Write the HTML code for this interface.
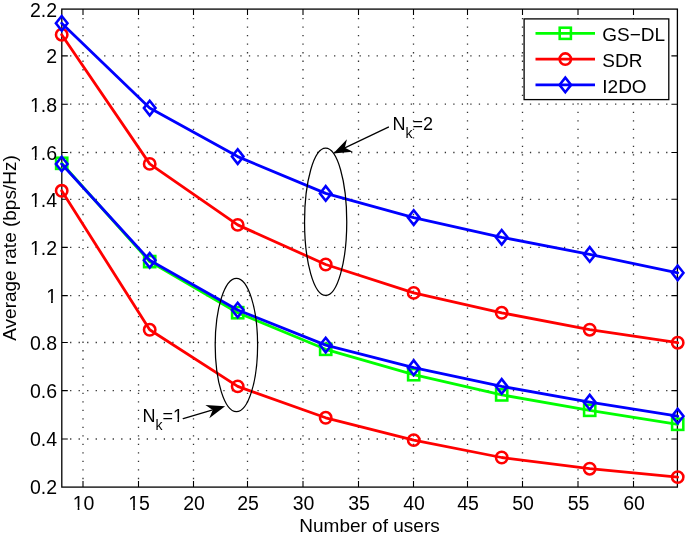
<!DOCTYPE html>
<html><head><meta charset="utf-8"><title>Average rate vs number of users</title>
<style>
html,body{margin:0;padding:0;background:#fff;}
body{width:685px;height:537px;overflow:hidden;position:relative;}
svg{position:absolute;left:0;top:0;display:block;will-change:transform;}
text{font-family:"Liberation Sans", sans-serif;fill:#000;}
</style></head><body>
<svg width="685" height="537" viewBox="0 0 685 537">
<rect x="0" y="0" width="685" height="537" fill="#fff"/>
<path d="M82.35 477.84h1.3v1.3h-1.3zM82.35 469.32h1.3v1.3h-1.3zM82.35 460.81h1.3v1.3h-1.3zM82.35 452.29h1.3v1.3h-1.3zM82.35 443.78h1.3v1.3h-1.3zM82.35 435.26h1.3v1.3h-1.3zM82.35 426.75h1.3v1.3h-1.3zM82.35 418.23h1.3v1.3h-1.3zM82.35 409.72h1.3v1.3h-1.3zM82.35 401.20h1.3v1.3h-1.3zM82.35 392.69h1.3v1.3h-1.3zM82.35 384.17h1.3v1.3h-1.3zM82.35 375.66h1.3v1.3h-1.3zM82.35 367.14h1.3v1.3h-1.3zM82.35 358.62h1.3v1.3h-1.3zM82.35 350.11h1.3v1.3h-1.3zM82.35 341.60h1.3v1.3h-1.3zM82.35 333.08h1.3v1.3h-1.3zM82.35 324.56h1.3v1.3h-1.3zM82.35 316.05h1.3v1.3h-1.3zM82.35 307.54h1.3v1.3h-1.3zM82.35 299.02h1.3v1.3h-1.3zM82.35 290.50h1.3v1.3h-1.3zM82.35 281.99h1.3v1.3h-1.3zM82.35 273.48h1.3v1.3h-1.3zM82.35 264.96h1.3v1.3h-1.3zM82.35 256.44h1.3v1.3h-1.3zM82.35 247.93h1.3v1.3h-1.3zM82.35 239.41h1.3v1.3h-1.3zM82.35 230.90h1.3v1.3h-1.3zM82.35 222.38h1.3v1.3h-1.3zM82.35 213.87h1.3v1.3h-1.3zM82.35 205.35h1.3v1.3h-1.3zM82.35 196.84h1.3v1.3h-1.3zM82.35 188.32h1.3v1.3h-1.3zM82.35 179.81h1.3v1.3h-1.3zM82.35 171.29h1.3v1.3h-1.3zM82.35 162.78h1.3v1.3h-1.3zM82.35 154.26h1.3v1.3h-1.3zM82.35 145.75h1.3v1.3h-1.3zM82.35 137.23h1.3v1.3h-1.3zM82.35 128.72h1.3v1.3h-1.3zM82.35 120.20h1.3v1.3h-1.3zM82.35 111.69h1.3v1.3h-1.3zM82.35 103.17h1.3v1.3h-1.3zM82.35 94.66h1.3v1.3h-1.3zM82.35 86.14h1.3v1.3h-1.3zM82.35 77.63h1.3v1.3h-1.3zM82.35 69.11h1.3v1.3h-1.3zM82.35 60.60h1.3v1.3h-1.3zM82.35 52.08h1.3v1.3h-1.3zM82.35 43.57h1.3v1.3h-1.3zM82.35 35.05h1.3v1.3h-1.3zM82.35 26.54h1.3v1.3h-1.3zM82.35 18.02h1.3v1.3h-1.3zM137.85 477.84h1.3v1.3h-1.3zM137.85 469.32h1.3v1.3h-1.3zM137.85 460.81h1.3v1.3h-1.3zM137.85 452.29h1.3v1.3h-1.3zM137.85 443.78h1.3v1.3h-1.3zM137.85 435.26h1.3v1.3h-1.3zM137.85 426.75h1.3v1.3h-1.3zM137.85 418.23h1.3v1.3h-1.3zM137.85 409.72h1.3v1.3h-1.3zM137.85 401.20h1.3v1.3h-1.3zM137.85 392.69h1.3v1.3h-1.3zM137.85 384.17h1.3v1.3h-1.3zM137.85 375.66h1.3v1.3h-1.3zM137.85 367.14h1.3v1.3h-1.3zM137.85 358.62h1.3v1.3h-1.3zM137.85 350.11h1.3v1.3h-1.3zM137.85 341.60h1.3v1.3h-1.3zM137.85 333.08h1.3v1.3h-1.3zM137.85 324.56h1.3v1.3h-1.3zM137.85 316.05h1.3v1.3h-1.3zM137.85 307.54h1.3v1.3h-1.3zM137.85 299.02h1.3v1.3h-1.3zM137.85 290.50h1.3v1.3h-1.3zM137.85 281.99h1.3v1.3h-1.3zM137.85 273.48h1.3v1.3h-1.3zM137.85 264.96h1.3v1.3h-1.3zM137.85 256.44h1.3v1.3h-1.3zM137.85 247.93h1.3v1.3h-1.3zM137.85 239.41h1.3v1.3h-1.3zM137.85 230.90h1.3v1.3h-1.3zM137.85 222.38h1.3v1.3h-1.3zM137.85 213.87h1.3v1.3h-1.3zM137.85 205.35h1.3v1.3h-1.3zM137.85 196.84h1.3v1.3h-1.3zM137.85 188.32h1.3v1.3h-1.3zM137.85 179.81h1.3v1.3h-1.3zM137.85 171.29h1.3v1.3h-1.3zM137.85 162.78h1.3v1.3h-1.3zM137.85 154.26h1.3v1.3h-1.3zM137.85 145.75h1.3v1.3h-1.3zM137.85 137.23h1.3v1.3h-1.3zM137.85 128.72h1.3v1.3h-1.3zM137.85 120.20h1.3v1.3h-1.3zM137.85 111.69h1.3v1.3h-1.3zM137.85 103.17h1.3v1.3h-1.3zM137.85 94.66h1.3v1.3h-1.3zM137.85 86.14h1.3v1.3h-1.3zM137.85 77.63h1.3v1.3h-1.3zM137.85 69.11h1.3v1.3h-1.3zM137.85 60.60h1.3v1.3h-1.3zM137.85 52.08h1.3v1.3h-1.3zM137.85 43.57h1.3v1.3h-1.3zM137.85 35.05h1.3v1.3h-1.3zM137.85 26.54h1.3v1.3h-1.3zM137.85 18.02h1.3v1.3h-1.3zM192.85 477.84h1.3v1.3h-1.3zM192.85 469.32h1.3v1.3h-1.3zM192.85 460.81h1.3v1.3h-1.3zM192.85 452.29h1.3v1.3h-1.3zM192.85 443.78h1.3v1.3h-1.3zM192.85 435.26h1.3v1.3h-1.3zM192.85 426.75h1.3v1.3h-1.3zM192.85 418.23h1.3v1.3h-1.3zM192.85 409.72h1.3v1.3h-1.3zM192.85 401.20h1.3v1.3h-1.3zM192.85 392.69h1.3v1.3h-1.3zM192.85 384.17h1.3v1.3h-1.3zM192.85 375.66h1.3v1.3h-1.3zM192.85 367.14h1.3v1.3h-1.3zM192.85 358.62h1.3v1.3h-1.3zM192.85 350.11h1.3v1.3h-1.3zM192.85 341.60h1.3v1.3h-1.3zM192.85 333.08h1.3v1.3h-1.3zM192.85 324.56h1.3v1.3h-1.3zM192.85 316.05h1.3v1.3h-1.3zM192.85 307.54h1.3v1.3h-1.3zM192.85 299.02h1.3v1.3h-1.3zM192.85 290.50h1.3v1.3h-1.3zM192.85 281.99h1.3v1.3h-1.3zM192.85 273.48h1.3v1.3h-1.3zM192.85 264.96h1.3v1.3h-1.3zM192.85 256.44h1.3v1.3h-1.3zM192.85 247.93h1.3v1.3h-1.3zM192.85 239.41h1.3v1.3h-1.3zM192.85 230.90h1.3v1.3h-1.3zM192.85 222.38h1.3v1.3h-1.3zM192.85 213.87h1.3v1.3h-1.3zM192.85 205.35h1.3v1.3h-1.3zM192.85 196.84h1.3v1.3h-1.3zM192.85 188.32h1.3v1.3h-1.3zM192.85 179.81h1.3v1.3h-1.3zM192.85 171.29h1.3v1.3h-1.3zM192.85 162.78h1.3v1.3h-1.3zM192.85 154.26h1.3v1.3h-1.3zM192.85 145.75h1.3v1.3h-1.3zM192.85 137.23h1.3v1.3h-1.3zM192.85 128.72h1.3v1.3h-1.3zM192.85 120.20h1.3v1.3h-1.3zM192.85 111.69h1.3v1.3h-1.3zM192.85 103.17h1.3v1.3h-1.3zM192.85 94.66h1.3v1.3h-1.3zM192.85 86.14h1.3v1.3h-1.3zM192.85 77.63h1.3v1.3h-1.3zM192.85 69.11h1.3v1.3h-1.3zM192.85 60.60h1.3v1.3h-1.3zM192.85 52.08h1.3v1.3h-1.3zM192.85 43.57h1.3v1.3h-1.3zM192.85 35.05h1.3v1.3h-1.3zM192.85 26.54h1.3v1.3h-1.3zM192.85 18.02h1.3v1.3h-1.3zM246.85 477.84h1.3v1.3h-1.3zM246.85 469.32h1.3v1.3h-1.3zM246.85 460.81h1.3v1.3h-1.3zM246.85 452.29h1.3v1.3h-1.3zM246.85 443.78h1.3v1.3h-1.3zM246.85 435.26h1.3v1.3h-1.3zM246.85 426.75h1.3v1.3h-1.3zM246.85 418.23h1.3v1.3h-1.3zM246.85 409.72h1.3v1.3h-1.3zM246.85 401.20h1.3v1.3h-1.3zM246.85 392.69h1.3v1.3h-1.3zM246.85 384.17h1.3v1.3h-1.3zM246.85 375.66h1.3v1.3h-1.3zM246.85 367.14h1.3v1.3h-1.3zM246.85 358.62h1.3v1.3h-1.3zM246.85 350.11h1.3v1.3h-1.3zM246.85 341.60h1.3v1.3h-1.3zM246.85 333.08h1.3v1.3h-1.3zM246.85 324.56h1.3v1.3h-1.3zM246.85 316.05h1.3v1.3h-1.3zM246.85 307.54h1.3v1.3h-1.3zM246.85 299.02h1.3v1.3h-1.3zM246.85 290.50h1.3v1.3h-1.3zM246.85 281.99h1.3v1.3h-1.3zM246.85 273.48h1.3v1.3h-1.3zM246.85 264.96h1.3v1.3h-1.3zM246.85 256.44h1.3v1.3h-1.3zM246.85 247.93h1.3v1.3h-1.3zM246.85 239.41h1.3v1.3h-1.3zM246.85 230.90h1.3v1.3h-1.3zM246.85 222.38h1.3v1.3h-1.3zM246.85 213.87h1.3v1.3h-1.3zM246.85 205.35h1.3v1.3h-1.3zM246.85 196.84h1.3v1.3h-1.3zM246.85 188.32h1.3v1.3h-1.3zM246.85 179.81h1.3v1.3h-1.3zM246.85 171.29h1.3v1.3h-1.3zM246.85 162.78h1.3v1.3h-1.3zM246.85 154.26h1.3v1.3h-1.3zM246.85 145.75h1.3v1.3h-1.3zM246.85 137.23h1.3v1.3h-1.3zM246.85 128.72h1.3v1.3h-1.3zM246.85 120.20h1.3v1.3h-1.3zM246.85 111.69h1.3v1.3h-1.3zM246.85 103.17h1.3v1.3h-1.3zM246.85 94.66h1.3v1.3h-1.3zM246.85 86.14h1.3v1.3h-1.3zM246.85 77.63h1.3v1.3h-1.3zM246.85 69.11h1.3v1.3h-1.3zM246.85 60.60h1.3v1.3h-1.3zM246.85 52.08h1.3v1.3h-1.3zM246.85 43.57h1.3v1.3h-1.3zM246.85 35.05h1.3v1.3h-1.3zM246.85 26.54h1.3v1.3h-1.3zM246.85 18.02h1.3v1.3h-1.3zM302.35 477.84h1.3v1.3h-1.3zM302.35 469.32h1.3v1.3h-1.3zM302.35 460.81h1.3v1.3h-1.3zM302.35 452.29h1.3v1.3h-1.3zM302.35 443.78h1.3v1.3h-1.3zM302.35 435.26h1.3v1.3h-1.3zM302.35 426.75h1.3v1.3h-1.3zM302.35 418.23h1.3v1.3h-1.3zM302.35 409.72h1.3v1.3h-1.3zM302.35 401.20h1.3v1.3h-1.3zM302.35 392.69h1.3v1.3h-1.3zM302.35 384.17h1.3v1.3h-1.3zM302.35 375.66h1.3v1.3h-1.3zM302.35 367.14h1.3v1.3h-1.3zM302.35 358.62h1.3v1.3h-1.3zM302.35 350.11h1.3v1.3h-1.3zM302.35 341.60h1.3v1.3h-1.3zM302.35 333.08h1.3v1.3h-1.3zM302.35 324.56h1.3v1.3h-1.3zM302.35 316.05h1.3v1.3h-1.3zM302.35 307.54h1.3v1.3h-1.3zM302.35 299.02h1.3v1.3h-1.3zM302.35 290.50h1.3v1.3h-1.3zM302.35 281.99h1.3v1.3h-1.3zM302.35 273.48h1.3v1.3h-1.3zM302.35 264.96h1.3v1.3h-1.3zM302.35 256.44h1.3v1.3h-1.3zM302.35 247.93h1.3v1.3h-1.3zM302.35 239.41h1.3v1.3h-1.3zM302.35 230.90h1.3v1.3h-1.3zM302.35 222.38h1.3v1.3h-1.3zM302.35 213.87h1.3v1.3h-1.3zM302.35 205.35h1.3v1.3h-1.3zM302.35 196.84h1.3v1.3h-1.3zM302.35 188.32h1.3v1.3h-1.3zM302.35 179.81h1.3v1.3h-1.3zM302.35 171.29h1.3v1.3h-1.3zM302.35 162.78h1.3v1.3h-1.3zM302.35 154.26h1.3v1.3h-1.3zM302.35 145.75h1.3v1.3h-1.3zM302.35 137.23h1.3v1.3h-1.3zM302.35 128.72h1.3v1.3h-1.3zM302.35 120.20h1.3v1.3h-1.3zM302.35 111.69h1.3v1.3h-1.3zM302.35 103.17h1.3v1.3h-1.3zM302.35 94.66h1.3v1.3h-1.3zM302.35 86.14h1.3v1.3h-1.3zM302.35 77.63h1.3v1.3h-1.3zM302.35 69.11h1.3v1.3h-1.3zM302.35 60.60h1.3v1.3h-1.3zM302.35 52.08h1.3v1.3h-1.3zM302.35 43.57h1.3v1.3h-1.3zM302.35 35.05h1.3v1.3h-1.3zM302.35 26.54h1.3v1.3h-1.3zM302.35 18.02h1.3v1.3h-1.3zM357.85 477.84h1.3v1.3h-1.3zM357.85 469.32h1.3v1.3h-1.3zM357.85 460.81h1.3v1.3h-1.3zM357.85 452.29h1.3v1.3h-1.3zM357.85 443.78h1.3v1.3h-1.3zM357.85 435.26h1.3v1.3h-1.3zM357.85 426.75h1.3v1.3h-1.3zM357.85 418.23h1.3v1.3h-1.3zM357.85 409.72h1.3v1.3h-1.3zM357.85 401.20h1.3v1.3h-1.3zM357.85 392.69h1.3v1.3h-1.3zM357.85 384.17h1.3v1.3h-1.3zM357.85 375.66h1.3v1.3h-1.3zM357.85 367.14h1.3v1.3h-1.3zM357.85 358.62h1.3v1.3h-1.3zM357.85 350.11h1.3v1.3h-1.3zM357.85 341.60h1.3v1.3h-1.3zM357.85 333.08h1.3v1.3h-1.3zM357.85 324.56h1.3v1.3h-1.3zM357.85 316.05h1.3v1.3h-1.3zM357.85 307.54h1.3v1.3h-1.3zM357.85 299.02h1.3v1.3h-1.3zM357.85 290.50h1.3v1.3h-1.3zM357.85 281.99h1.3v1.3h-1.3zM357.85 273.48h1.3v1.3h-1.3zM357.85 264.96h1.3v1.3h-1.3zM357.85 256.44h1.3v1.3h-1.3zM357.85 247.93h1.3v1.3h-1.3zM357.85 239.41h1.3v1.3h-1.3zM357.85 230.90h1.3v1.3h-1.3zM357.85 222.38h1.3v1.3h-1.3zM357.85 213.87h1.3v1.3h-1.3zM357.85 205.35h1.3v1.3h-1.3zM357.85 196.84h1.3v1.3h-1.3zM357.85 188.32h1.3v1.3h-1.3zM357.85 179.81h1.3v1.3h-1.3zM357.85 171.29h1.3v1.3h-1.3zM357.85 162.78h1.3v1.3h-1.3zM357.85 154.26h1.3v1.3h-1.3zM357.85 145.75h1.3v1.3h-1.3zM357.85 137.23h1.3v1.3h-1.3zM357.85 128.72h1.3v1.3h-1.3zM357.85 120.20h1.3v1.3h-1.3zM357.85 111.69h1.3v1.3h-1.3zM357.85 103.17h1.3v1.3h-1.3zM357.85 94.66h1.3v1.3h-1.3zM357.85 86.14h1.3v1.3h-1.3zM357.85 77.63h1.3v1.3h-1.3zM357.85 69.11h1.3v1.3h-1.3zM357.85 60.60h1.3v1.3h-1.3zM357.85 52.08h1.3v1.3h-1.3zM357.85 43.57h1.3v1.3h-1.3zM357.85 35.05h1.3v1.3h-1.3zM357.85 26.54h1.3v1.3h-1.3zM357.85 18.02h1.3v1.3h-1.3zM412.85 477.84h1.3v1.3h-1.3zM412.85 469.32h1.3v1.3h-1.3zM412.85 460.81h1.3v1.3h-1.3zM412.85 452.29h1.3v1.3h-1.3zM412.85 443.78h1.3v1.3h-1.3zM412.85 435.26h1.3v1.3h-1.3zM412.85 426.75h1.3v1.3h-1.3zM412.85 418.23h1.3v1.3h-1.3zM412.85 409.72h1.3v1.3h-1.3zM412.85 401.20h1.3v1.3h-1.3zM412.85 392.69h1.3v1.3h-1.3zM412.85 384.17h1.3v1.3h-1.3zM412.85 375.66h1.3v1.3h-1.3zM412.85 367.14h1.3v1.3h-1.3zM412.85 358.62h1.3v1.3h-1.3zM412.85 350.11h1.3v1.3h-1.3zM412.85 341.60h1.3v1.3h-1.3zM412.85 333.08h1.3v1.3h-1.3zM412.85 324.56h1.3v1.3h-1.3zM412.85 316.05h1.3v1.3h-1.3zM412.85 307.54h1.3v1.3h-1.3zM412.85 299.02h1.3v1.3h-1.3zM412.85 290.50h1.3v1.3h-1.3zM412.85 281.99h1.3v1.3h-1.3zM412.85 273.48h1.3v1.3h-1.3zM412.85 264.96h1.3v1.3h-1.3zM412.85 256.44h1.3v1.3h-1.3zM412.85 247.93h1.3v1.3h-1.3zM412.85 239.41h1.3v1.3h-1.3zM412.85 230.90h1.3v1.3h-1.3zM412.85 222.38h1.3v1.3h-1.3zM412.85 213.87h1.3v1.3h-1.3zM412.85 205.35h1.3v1.3h-1.3zM412.85 196.84h1.3v1.3h-1.3zM412.85 188.32h1.3v1.3h-1.3zM412.85 179.81h1.3v1.3h-1.3zM412.85 171.29h1.3v1.3h-1.3zM412.85 162.78h1.3v1.3h-1.3zM412.85 154.26h1.3v1.3h-1.3zM412.85 145.75h1.3v1.3h-1.3zM412.85 137.23h1.3v1.3h-1.3zM412.85 128.72h1.3v1.3h-1.3zM412.85 120.20h1.3v1.3h-1.3zM412.85 111.69h1.3v1.3h-1.3zM412.85 103.17h1.3v1.3h-1.3zM412.85 94.66h1.3v1.3h-1.3zM412.85 86.14h1.3v1.3h-1.3zM412.85 77.63h1.3v1.3h-1.3zM412.85 69.11h1.3v1.3h-1.3zM412.85 60.60h1.3v1.3h-1.3zM412.85 52.08h1.3v1.3h-1.3zM412.85 43.57h1.3v1.3h-1.3zM412.85 35.05h1.3v1.3h-1.3zM412.85 26.54h1.3v1.3h-1.3zM412.85 18.02h1.3v1.3h-1.3zM466.85 477.84h1.3v1.3h-1.3zM466.85 469.32h1.3v1.3h-1.3zM466.85 460.81h1.3v1.3h-1.3zM466.85 452.29h1.3v1.3h-1.3zM466.85 443.78h1.3v1.3h-1.3zM466.85 435.26h1.3v1.3h-1.3zM466.85 426.75h1.3v1.3h-1.3zM466.85 418.23h1.3v1.3h-1.3zM466.85 409.72h1.3v1.3h-1.3zM466.85 401.20h1.3v1.3h-1.3zM466.85 392.69h1.3v1.3h-1.3zM466.85 384.17h1.3v1.3h-1.3zM466.85 375.66h1.3v1.3h-1.3zM466.85 367.14h1.3v1.3h-1.3zM466.85 358.62h1.3v1.3h-1.3zM466.85 350.11h1.3v1.3h-1.3zM466.85 341.60h1.3v1.3h-1.3zM466.85 333.08h1.3v1.3h-1.3zM466.85 324.56h1.3v1.3h-1.3zM466.85 316.05h1.3v1.3h-1.3zM466.85 307.54h1.3v1.3h-1.3zM466.85 299.02h1.3v1.3h-1.3zM466.85 290.50h1.3v1.3h-1.3zM466.85 281.99h1.3v1.3h-1.3zM466.85 273.48h1.3v1.3h-1.3zM466.85 264.96h1.3v1.3h-1.3zM466.85 256.44h1.3v1.3h-1.3zM466.85 247.93h1.3v1.3h-1.3zM466.85 239.41h1.3v1.3h-1.3zM466.85 230.90h1.3v1.3h-1.3zM466.85 222.38h1.3v1.3h-1.3zM466.85 213.87h1.3v1.3h-1.3zM466.85 205.35h1.3v1.3h-1.3zM466.85 196.84h1.3v1.3h-1.3zM466.85 188.32h1.3v1.3h-1.3zM466.85 179.81h1.3v1.3h-1.3zM466.85 171.29h1.3v1.3h-1.3zM466.85 162.78h1.3v1.3h-1.3zM466.85 154.26h1.3v1.3h-1.3zM466.85 145.75h1.3v1.3h-1.3zM466.85 137.23h1.3v1.3h-1.3zM466.85 128.72h1.3v1.3h-1.3zM466.85 120.20h1.3v1.3h-1.3zM466.85 111.69h1.3v1.3h-1.3zM466.85 103.17h1.3v1.3h-1.3zM466.85 94.66h1.3v1.3h-1.3zM466.85 86.14h1.3v1.3h-1.3zM466.85 77.63h1.3v1.3h-1.3zM466.85 69.11h1.3v1.3h-1.3zM466.85 60.60h1.3v1.3h-1.3zM466.85 52.08h1.3v1.3h-1.3zM466.85 43.57h1.3v1.3h-1.3zM466.85 35.05h1.3v1.3h-1.3zM466.85 26.54h1.3v1.3h-1.3zM466.85 18.02h1.3v1.3h-1.3zM521.85 477.84h1.3v1.3h-1.3zM521.85 469.32h1.3v1.3h-1.3zM521.85 460.81h1.3v1.3h-1.3zM521.85 452.29h1.3v1.3h-1.3zM521.85 443.78h1.3v1.3h-1.3zM521.85 435.26h1.3v1.3h-1.3zM521.85 426.75h1.3v1.3h-1.3zM521.85 418.23h1.3v1.3h-1.3zM521.85 409.72h1.3v1.3h-1.3zM521.85 401.20h1.3v1.3h-1.3zM521.85 392.69h1.3v1.3h-1.3zM521.85 384.17h1.3v1.3h-1.3zM521.85 375.66h1.3v1.3h-1.3zM521.85 367.14h1.3v1.3h-1.3zM521.85 358.62h1.3v1.3h-1.3zM521.85 350.11h1.3v1.3h-1.3zM521.85 341.60h1.3v1.3h-1.3zM521.85 333.08h1.3v1.3h-1.3zM521.85 324.56h1.3v1.3h-1.3zM521.85 316.05h1.3v1.3h-1.3zM521.85 307.54h1.3v1.3h-1.3zM521.85 299.02h1.3v1.3h-1.3zM521.85 290.50h1.3v1.3h-1.3zM521.85 281.99h1.3v1.3h-1.3zM521.85 273.48h1.3v1.3h-1.3zM521.85 264.96h1.3v1.3h-1.3zM521.85 256.44h1.3v1.3h-1.3zM521.85 247.93h1.3v1.3h-1.3zM521.85 239.41h1.3v1.3h-1.3zM521.85 230.90h1.3v1.3h-1.3zM521.85 222.38h1.3v1.3h-1.3zM521.85 213.87h1.3v1.3h-1.3zM521.85 205.35h1.3v1.3h-1.3zM521.85 196.84h1.3v1.3h-1.3zM521.85 188.32h1.3v1.3h-1.3zM521.85 179.81h1.3v1.3h-1.3zM521.85 171.29h1.3v1.3h-1.3zM521.85 162.78h1.3v1.3h-1.3zM521.85 154.26h1.3v1.3h-1.3zM521.85 145.75h1.3v1.3h-1.3zM521.85 137.23h1.3v1.3h-1.3zM521.85 128.72h1.3v1.3h-1.3zM521.85 120.20h1.3v1.3h-1.3zM521.85 111.69h1.3v1.3h-1.3zM521.85 103.17h1.3v1.3h-1.3zM521.85 94.66h1.3v1.3h-1.3zM521.85 86.14h1.3v1.3h-1.3zM521.85 77.63h1.3v1.3h-1.3zM521.85 69.11h1.3v1.3h-1.3zM521.85 60.60h1.3v1.3h-1.3zM521.85 52.08h1.3v1.3h-1.3zM521.85 43.57h1.3v1.3h-1.3zM521.85 35.05h1.3v1.3h-1.3zM521.85 26.54h1.3v1.3h-1.3zM521.85 18.02h1.3v1.3h-1.3zM577.35 477.84h1.3v1.3h-1.3zM577.35 469.32h1.3v1.3h-1.3zM577.35 460.81h1.3v1.3h-1.3zM577.35 452.29h1.3v1.3h-1.3zM577.35 443.78h1.3v1.3h-1.3zM577.35 435.26h1.3v1.3h-1.3zM577.35 426.75h1.3v1.3h-1.3zM577.35 418.23h1.3v1.3h-1.3zM577.35 409.72h1.3v1.3h-1.3zM577.35 401.20h1.3v1.3h-1.3zM577.35 392.69h1.3v1.3h-1.3zM577.35 384.17h1.3v1.3h-1.3zM577.35 375.66h1.3v1.3h-1.3zM577.35 367.14h1.3v1.3h-1.3zM577.35 358.62h1.3v1.3h-1.3zM577.35 350.11h1.3v1.3h-1.3zM577.35 341.60h1.3v1.3h-1.3zM577.35 333.08h1.3v1.3h-1.3zM577.35 324.56h1.3v1.3h-1.3zM577.35 316.05h1.3v1.3h-1.3zM577.35 307.54h1.3v1.3h-1.3zM577.35 299.02h1.3v1.3h-1.3zM577.35 290.50h1.3v1.3h-1.3zM577.35 281.99h1.3v1.3h-1.3zM577.35 273.48h1.3v1.3h-1.3zM577.35 264.96h1.3v1.3h-1.3zM577.35 256.44h1.3v1.3h-1.3zM577.35 247.93h1.3v1.3h-1.3zM577.35 239.41h1.3v1.3h-1.3zM577.35 230.90h1.3v1.3h-1.3zM577.35 222.38h1.3v1.3h-1.3zM577.35 213.87h1.3v1.3h-1.3zM577.35 205.35h1.3v1.3h-1.3zM577.35 196.84h1.3v1.3h-1.3zM577.35 188.32h1.3v1.3h-1.3zM577.35 179.81h1.3v1.3h-1.3zM577.35 171.29h1.3v1.3h-1.3zM577.35 162.78h1.3v1.3h-1.3zM577.35 154.26h1.3v1.3h-1.3zM577.35 145.75h1.3v1.3h-1.3zM577.35 137.23h1.3v1.3h-1.3zM577.35 128.72h1.3v1.3h-1.3zM577.35 120.20h1.3v1.3h-1.3zM577.35 111.69h1.3v1.3h-1.3zM577.35 103.17h1.3v1.3h-1.3zM577.35 94.66h1.3v1.3h-1.3zM577.35 86.14h1.3v1.3h-1.3zM577.35 77.63h1.3v1.3h-1.3zM577.35 69.11h1.3v1.3h-1.3zM577.35 60.60h1.3v1.3h-1.3zM577.35 52.08h1.3v1.3h-1.3zM577.35 43.57h1.3v1.3h-1.3zM577.35 35.05h1.3v1.3h-1.3zM577.35 26.54h1.3v1.3h-1.3zM577.35 18.02h1.3v1.3h-1.3zM632.85 477.84h1.3v1.3h-1.3zM632.85 469.32h1.3v1.3h-1.3zM632.85 460.81h1.3v1.3h-1.3zM632.85 452.29h1.3v1.3h-1.3zM632.85 443.78h1.3v1.3h-1.3zM632.85 435.26h1.3v1.3h-1.3zM632.85 426.75h1.3v1.3h-1.3zM632.85 418.23h1.3v1.3h-1.3zM632.85 409.72h1.3v1.3h-1.3zM632.85 401.20h1.3v1.3h-1.3zM632.85 392.69h1.3v1.3h-1.3zM632.85 384.17h1.3v1.3h-1.3zM632.85 375.66h1.3v1.3h-1.3zM632.85 367.14h1.3v1.3h-1.3zM632.85 358.62h1.3v1.3h-1.3zM632.85 350.11h1.3v1.3h-1.3zM632.85 341.60h1.3v1.3h-1.3zM632.85 333.08h1.3v1.3h-1.3zM632.85 324.56h1.3v1.3h-1.3zM632.85 316.05h1.3v1.3h-1.3zM632.85 307.54h1.3v1.3h-1.3zM632.85 299.02h1.3v1.3h-1.3zM632.85 290.50h1.3v1.3h-1.3zM632.85 281.99h1.3v1.3h-1.3zM632.85 273.48h1.3v1.3h-1.3zM632.85 264.96h1.3v1.3h-1.3zM632.85 256.44h1.3v1.3h-1.3zM632.85 247.93h1.3v1.3h-1.3zM632.85 239.41h1.3v1.3h-1.3zM632.85 230.90h1.3v1.3h-1.3zM632.85 222.38h1.3v1.3h-1.3zM632.85 213.87h1.3v1.3h-1.3zM632.85 205.35h1.3v1.3h-1.3zM632.85 196.84h1.3v1.3h-1.3zM632.85 188.32h1.3v1.3h-1.3zM632.85 179.81h1.3v1.3h-1.3zM632.85 171.29h1.3v1.3h-1.3zM632.85 162.78h1.3v1.3h-1.3zM632.85 154.26h1.3v1.3h-1.3zM632.85 145.75h1.3v1.3h-1.3zM632.85 137.23h1.3v1.3h-1.3zM632.85 128.72h1.3v1.3h-1.3zM632.85 120.20h1.3v1.3h-1.3zM632.85 111.69h1.3v1.3h-1.3zM632.85 103.17h1.3v1.3h-1.3zM632.85 94.66h1.3v1.3h-1.3zM632.85 86.14h1.3v1.3h-1.3zM632.85 77.63h1.3v1.3h-1.3zM632.85 69.11h1.3v1.3h-1.3zM632.85 60.60h1.3v1.3h-1.3zM632.85 52.08h1.3v1.3h-1.3zM632.85 43.57h1.3v1.3h-1.3zM632.85 35.05h1.3v1.3h-1.3zM632.85 26.54h1.3v1.3h-1.3zM632.85 18.02h1.3v1.3h-1.3zM70.06 438.35h1.3v1.3h-1.3zM78.58 438.35h1.3v1.3h-1.3zM87.09 438.35h1.3v1.3h-1.3zM95.61 438.35h1.3v1.3h-1.3zM104.12 438.35h1.3v1.3h-1.3zM112.64 438.35h1.3v1.3h-1.3zM121.16 438.35h1.3v1.3h-1.3zM129.67 438.35h1.3v1.3h-1.3zM138.19 438.35h1.3v1.3h-1.3zM146.70 438.35h1.3v1.3h-1.3zM155.22 438.35h1.3v1.3h-1.3zM163.73 438.35h1.3v1.3h-1.3zM172.25 438.35h1.3v1.3h-1.3zM180.76 438.35h1.3v1.3h-1.3zM189.28 438.35h1.3v1.3h-1.3zM197.79 438.35h1.3v1.3h-1.3zM206.30 438.35h1.3v1.3h-1.3zM214.82 438.35h1.3v1.3h-1.3zM223.34 438.35h1.3v1.3h-1.3zM231.85 438.35h1.3v1.3h-1.3zM240.36 438.35h1.3v1.3h-1.3zM248.88 438.35h1.3v1.3h-1.3zM257.40 438.35h1.3v1.3h-1.3zM265.91 438.35h1.3v1.3h-1.3zM274.43 438.35h1.3v1.3h-1.3zM282.94 438.35h1.3v1.3h-1.3zM291.46 438.35h1.3v1.3h-1.3zM299.97 438.35h1.3v1.3h-1.3zM308.49 438.35h1.3v1.3h-1.3zM317.00 438.35h1.3v1.3h-1.3zM325.52 438.35h1.3v1.3h-1.3zM334.03 438.35h1.3v1.3h-1.3zM342.55 438.35h1.3v1.3h-1.3zM351.06 438.35h1.3v1.3h-1.3zM359.58 438.35h1.3v1.3h-1.3zM368.09 438.35h1.3v1.3h-1.3zM376.61 438.35h1.3v1.3h-1.3zM385.12 438.35h1.3v1.3h-1.3zM393.64 438.35h1.3v1.3h-1.3zM402.15 438.35h1.3v1.3h-1.3zM410.67 438.35h1.3v1.3h-1.3zM419.18 438.35h1.3v1.3h-1.3zM427.70 438.35h1.3v1.3h-1.3zM436.21 438.35h1.3v1.3h-1.3zM444.73 438.35h1.3v1.3h-1.3zM453.24 438.35h1.3v1.3h-1.3zM461.76 438.35h1.3v1.3h-1.3zM470.27 438.35h1.3v1.3h-1.3zM478.79 438.35h1.3v1.3h-1.3zM487.30 438.35h1.3v1.3h-1.3zM495.82 438.35h1.3v1.3h-1.3zM504.33 438.35h1.3v1.3h-1.3zM512.85 438.35h1.3v1.3h-1.3zM521.36 438.35h1.3v1.3h-1.3zM529.88 438.35h1.3v1.3h-1.3zM538.39 438.35h1.3v1.3h-1.3zM546.91 438.35h1.3v1.3h-1.3zM555.42 438.35h1.3v1.3h-1.3zM563.94 438.35h1.3v1.3h-1.3zM572.45 438.35h1.3v1.3h-1.3zM580.97 438.35h1.3v1.3h-1.3zM589.48 438.35h1.3v1.3h-1.3zM598.00 438.35h1.3v1.3h-1.3zM606.51 438.35h1.3v1.3h-1.3zM615.03 438.35h1.3v1.3h-1.3zM623.54 438.35h1.3v1.3h-1.3zM632.06 438.35h1.3v1.3h-1.3zM640.57 438.35h1.3v1.3h-1.3zM649.09 438.35h1.3v1.3h-1.3zM657.60 438.35h1.3v1.3h-1.3zM666.12 438.35h1.3v1.3h-1.3zM70.06 389.95h1.3v1.3h-1.3zM78.58 389.95h1.3v1.3h-1.3zM87.09 389.95h1.3v1.3h-1.3zM95.61 389.95h1.3v1.3h-1.3zM104.12 389.95h1.3v1.3h-1.3zM112.64 389.95h1.3v1.3h-1.3zM121.16 389.95h1.3v1.3h-1.3zM129.67 389.95h1.3v1.3h-1.3zM138.19 389.95h1.3v1.3h-1.3zM146.70 389.95h1.3v1.3h-1.3zM155.22 389.95h1.3v1.3h-1.3zM163.73 389.95h1.3v1.3h-1.3zM172.25 389.95h1.3v1.3h-1.3zM180.76 389.95h1.3v1.3h-1.3zM189.28 389.95h1.3v1.3h-1.3zM197.79 389.95h1.3v1.3h-1.3zM206.30 389.95h1.3v1.3h-1.3zM214.82 389.95h1.3v1.3h-1.3zM223.34 389.95h1.3v1.3h-1.3zM231.85 389.95h1.3v1.3h-1.3zM240.36 389.95h1.3v1.3h-1.3zM248.88 389.95h1.3v1.3h-1.3zM257.40 389.95h1.3v1.3h-1.3zM265.91 389.95h1.3v1.3h-1.3zM274.43 389.95h1.3v1.3h-1.3zM282.94 389.95h1.3v1.3h-1.3zM291.46 389.95h1.3v1.3h-1.3zM299.97 389.95h1.3v1.3h-1.3zM308.49 389.95h1.3v1.3h-1.3zM317.00 389.95h1.3v1.3h-1.3zM325.52 389.95h1.3v1.3h-1.3zM334.03 389.95h1.3v1.3h-1.3zM342.55 389.95h1.3v1.3h-1.3zM351.06 389.95h1.3v1.3h-1.3zM359.58 389.95h1.3v1.3h-1.3zM368.09 389.95h1.3v1.3h-1.3zM376.61 389.95h1.3v1.3h-1.3zM385.12 389.95h1.3v1.3h-1.3zM393.64 389.95h1.3v1.3h-1.3zM402.15 389.95h1.3v1.3h-1.3zM410.67 389.95h1.3v1.3h-1.3zM419.18 389.95h1.3v1.3h-1.3zM427.70 389.95h1.3v1.3h-1.3zM436.21 389.95h1.3v1.3h-1.3zM444.73 389.95h1.3v1.3h-1.3zM453.24 389.95h1.3v1.3h-1.3zM461.76 389.95h1.3v1.3h-1.3zM470.27 389.95h1.3v1.3h-1.3zM478.79 389.95h1.3v1.3h-1.3zM487.30 389.95h1.3v1.3h-1.3zM495.82 389.95h1.3v1.3h-1.3zM504.33 389.95h1.3v1.3h-1.3zM512.85 389.95h1.3v1.3h-1.3zM521.36 389.95h1.3v1.3h-1.3zM529.88 389.95h1.3v1.3h-1.3zM538.39 389.95h1.3v1.3h-1.3zM546.91 389.95h1.3v1.3h-1.3zM555.42 389.95h1.3v1.3h-1.3zM563.94 389.95h1.3v1.3h-1.3zM572.45 389.95h1.3v1.3h-1.3zM580.97 389.95h1.3v1.3h-1.3zM589.48 389.95h1.3v1.3h-1.3zM598.00 389.95h1.3v1.3h-1.3zM606.51 389.95h1.3v1.3h-1.3zM615.03 389.95h1.3v1.3h-1.3zM623.54 389.95h1.3v1.3h-1.3zM632.06 389.95h1.3v1.3h-1.3zM640.57 389.95h1.3v1.3h-1.3zM649.09 389.95h1.3v1.3h-1.3zM657.60 389.95h1.3v1.3h-1.3zM666.12 389.95h1.3v1.3h-1.3zM70.06 341.85h1.3v1.3h-1.3zM78.58 341.85h1.3v1.3h-1.3zM87.09 341.85h1.3v1.3h-1.3zM95.61 341.85h1.3v1.3h-1.3zM104.12 341.85h1.3v1.3h-1.3zM112.64 341.85h1.3v1.3h-1.3zM121.16 341.85h1.3v1.3h-1.3zM129.67 341.85h1.3v1.3h-1.3zM138.19 341.85h1.3v1.3h-1.3zM146.70 341.85h1.3v1.3h-1.3zM155.22 341.85h1.3v1.3h-1.3zM163.73 341.85h1.3v1.3h-1.3zM172.25 341.85h1.3v1.3h-1.3zM180.76 341.85h1.3v1.3h-1.3zM189.28 341.85h1.3v1.3h-1.3zM197.79 341.85h1.3v1.3h-1.3zM206.30 341.85h1.3v1.3h-1.3zM214.82 341.85h1.3v1.3h-1.3zM223.34 341.85h1.3v1.3h-1.3zM231.85 341.85h1.3v1.3h-1.3zM240.36 341.85h1.3v1.3h-1.3zM248.88 341.85h1.3v1.3h-1.3zM257.40 341.85h1.3v1.3h-1.3zM265.91 341.85h1.3v1.3h-1.3zM274.43 341.85h1.3v1.3h-1.3zM282.94 341.85h1.3v1.3h-1.3zM291.46 341.85h1.3v1.3h-1.3zM299.97 341.85h1.3v1.3h-1.3zM308.49 341.85h1.3v1.3h-1.3zM317.00 341.85h1.3v1.3h-1.3zM325.52 341.85h1.3v1.3h-1.3zM334.03 341.85h1.3v1.3h-1.3zM342.55 341.85h1.3v1.3h-1.3zM351.06 341.85h1.3v1.3h-1.3zM359.58 341.85h1.3v1.3h-1.3zM368.09 341.85h1.3v1.3h-1.3zM376.61 341.85h1.3v1.3h-1.3zM385.12 341.85h1.3v1.3h-1.3zM393.64 341.85h1.3v1.3h-1.3zM402.15 341.85h1.3v1.3h-1.3zM410.67 341.85h1.3v1.3h-1.3zM419.18 341.85h1.3v1.3h-1.3zM427.70 341.85h1.3v1.3h-1.3zM436.21 341.85h1.3v1.3h-1.3zM444.73 341.85h1.3v1.3h-1.3zM453.24 341.85h1.3v1.3h-1.3zM461.76 341.85h1.3v1.3h-1.3zM470.27 341.85h1.3v1.3h-1.3zM478.79 341.85h1.3v1.3h-1.3zM487.30 341.85h1.3v1.3h-1.3zM495.82 341.85h1.3v1.3h-1.3zM504.33 341.85h1.3v1.3h-1.3zM512.85 341.85h1.3v1.3h-1.3zM521.36 341.85h1.3v1.3h-1.3zM529.88 341.85h1.3v1.3h-1.3zM538.39 341.85h1.3v1.3h-1.3zM546.91 341.85h1.3v1.3h-1.3zM555.42 341.85h1.3v1.3h-1.3zM563.94 341.85h1.3v1.3h-1.3zM572.45 341.85h1.3v1.3h-1.3zM580.97 341.85h1.3v1.3h-1.3zM589.48 341.85h1.3v1.3h-1.3zM598.00 341.85h1.3v1.3h-1.3zM606.51 341.85h1.3v1.3h-1.3zM615.03 341.85h1.3v1.3h-1.3zM623.54 341.85h1.3v1.3h-1.3zM632.06 341.85h1.3v1.3h-1.3zM640.57 341.85h1.3v1.3h-1.3zM649.09 341.85h1.3v1.3h-1.3zM657.60 341.85h1.3v1.3h-1.3zM666.12 341.85h1.3v1.3h-1.3zM70.06 294.95h1.3v1.3h-1.3zM78.58 294.95h1.3v1.3h-1.3zM87.09 294.95h1.3v1.3h-1.3zM95.61 294.95h1.3v1.3h-1.3zM104.12 294.95h1.3v1.3h-1.3zM112.64 294.95h1.3v1.3h-1.3zM121.16 294.95h1.3v1.3h-1.3zM129.67 294.95h1.3v1.3h-1.3zM138.19 294.95h1.3v1.3h-1.3zM146.70 294.95h1.3v1.3h-1.3zM155.22 294.95h1.3v1.3h-1.3zM163.73 294.95h1.3v1.3h-1.3zM172.25 294.95h1.3v1.3h-1.3zM180.76 294.95h1.3v1.3h-1.3zM189.28 294.95h1.3v1.3h-1.3zM197.79 294.95h1.3v1.3h-1.3zM206.30 294.95h1.3v1.3h-1.3zM214.82 294.95h1.3v1.3h-1.3zM223.34 294.95h1.3v1.3h-1.3zM231.85 294.95h1.3v1.3h-1.3zM240.36 294.95h1.3v1.3h-1.3zM248.88 294.95h1.3v1.3h-1.3zM257.40 294.95h1.3v1.3h-1.3zM265.91 294.95h1.3v1.3h-1.3zM274.43 294.95h1.3v1.3h-1.3zM282.94 294.95h1.3v1.3h-1.3zM291.46 294.95h1.3v1.3h-1.3zM299.97 294.95h1.3v1.3h-1.3zM308.49 294.95h1.3v1.3h-1.3zM317.00 294.95h1.3v1.3h-1.3zM325.52 294.95h1.3v1.3h-1.3zM334.03 294.95h1.3v1.3h-1.3zM342.55 294.95h1.3v1.3h-1.3zM351.06 294.95h1.3v1.3h-1.3zM359.58 294.95h1.3v1.3h-1.3zM368.09 294.95h1.3v1.3h-1.3zM376.61 294.95h1.3v1.3h-1.3zM385.12 294.95h1.3v1.3h-1.3zM393.64 294.95h1.3v1.3h-1.3zM402.15 294.95h1.3v1.3h-1.3zM410.67 294.95h1.3v1.3h-1.3zM419.18 294.95h1.3v1.3h-1.3zM427.70 294.95h1.3v1.3h-1.3zM436.21 294.95h1.3v1.3h-1.3zM444.73 294.95h1.3v1.3h-1.3zM453.24 294.95h1.3v1.3h-1.3zM461.76 294.95h1.3v1.3h-1.3zM470.27 294.95h1.3v1.3h-1.3zM478.79 294.95h1.3v1.3h-1.3zM487.30 294.95h1.3v1.3h-1.3zM495.82 294.95h1.3v1.3h-1.3zM504.33 294.95h1.3v1.3h-1.3zM512.85 294.95h1.3v1.3h-1.3zM521.36 294.95h1.3v1.3h-1.3zM529.88 294.95h1.3v1.3h-1.3zM538.39 294.95h1.3v1.3h-1.3zM546.91 294.95h1.3v1.3h-1.3zM555.42 294.95h1.3v1.3h-1.3zM563.94 294.95h1.3v1.3h-1.3zM572.45 294.95h1.3v1.3h-1.3zM580.97 294.95h1.3v1.3h-1.3zM589.48 294.95h1.3v1.3h-1.3zM598.00 294.95h1.3v1.3h-1.3zM606.51 294.95h1.3v1.3h-1.3zM615.03 294.95h1.3v1.3h-1.3zM623.54 294.95h1.3v1.3h-1.3zM632.06 294.95h1.3v1.3h-1.3zM640.57 294.95h1.3v1.3h-1.3zM649.09 294.95h1.3v1.3h-1.3zM657.60 294.95h1.3v1.3h-1.3zM666.12 294.95h1.3v1.3h-1.3zM70.06 246.75h1.3v1.3h-1.3zM78.58 246.75h1.3v1.3h-1.3zM87.09 246.75h1.3v1.3h-1.3zM95.61 246.75h1.3v1.3h-1.3zM104.12 246.75h1.3v1.3h-1.3zM112.64 246.75h1.3v1.3h-1.3zM121.16 246.75h1.3v1.3h-1.3zM129.67 246.75h1.3v1.3h-1.3zM138.19 246.75h1.3v1.3h-1.3zM146.70 246.75h1.3v1.3h-1.3zM155.22 246.75h1.3v1.3h-1.3zM163.73 246.75h1.3v1.3h-1.3zM172.25 246.75h1.3v1.3h-1.3zM180.76 246.75h1.3v1.3h-1.3zM189.28 246.75h1.3v1.3h-1.3zM197.79 246.75h1.3v1.3h-1.3zM206.30 246.75h1.3v1.3h-1.3zM214.82 246.75h1.3v1.3h-1.3zM223.34 246.75h1.3v1.3h-1.3zM231.85 246.75h1.3v1.3h-1.3zM240.36 246.75h1.3v1.3h-1.3zM248.88 246.75h1.3v1.3h-1.3zM257.40 246.75h1.3v1.3h-1.3zM265.91 246.75h1.3v1.3h-1.3zM274.43 246.75h1.3v1.3h-1.3zM282.94 246.75h1.3v1.3h-1.3zM291.46 246.75h1.3v1.3h-1.3zM299.97 246.75h1.3v1.3h-1.3zM308.49 246.75h1.3v1.3h-1.3zM317.00 246.75h1.3v1.3h-1.3zM325.52 246.75h1.3v1.3h-1.3zM334.03 246.75h1.3v1.3h-1.3zM342.55 246.75h1.3v1.3h-1.3zM351.06 246.75h1.3v1.3h-1.3zM359.58 246.75h1.3v1.3h-1.3zM368.09 246.75h1.3v1.3h-1.3zM376.61 246.75h1.3v1.3h-1.3zM385.12 246.75h1.3v1.3h-1.3zM393.64 246.75h1.3v1.3h-1.3zM402.15 246.75h1.3v1.3h-1.3zM410.67 246.75h1.3v1.3h-1.3zM419.18 246.75h1.3v1.3h-1.3zM427.70 246.75h1.3v1.3h-1.3zM436.21 246.75h1.3v1.3h-1.3zM444.73 246.75h1.3v1.3h-1.3zM453.24 246.75h1.3v1.3h-1.3zM461.76 246.75h1.3v1.3h-1.3zM470.27 246.75h1.3v1.3h-1.3zM478.79 246.75h1.3v1.3h-1.3zM487.30 246.75h1.3v1.3h-1.3zM495.82 246.75h1.3v1.3h-1.3zM504.33 246.75h1.3v1.3h-1.3zM512.85 246.75h1.3v1.3h-1.3zM521.36 246.75h1.3v1.3h-1.3zM529.88 246.75h1.3v1.3h-1.3zM538.39 246.75h1.3v1.3h-1.3zM546.91 246.75h1.3v1.3h-1.3zM555.42 246.75h1.3v1.3h-1.3zM563.94 246.75h1.3v1.3h-1.3zM572.45 246.75h1.3v1.3h-1.3zM580.97 246.75h1.3v1.3h-1.3zM589.48 246.75h1.3v1.3h-1.3zM598.00 246.75h1.3v1.3h-1.3zM606.51 246.75h1.3v1.3h-1.3zM615.03 246.75h1.3v1.3h-1.3zM623.54 246.75h1.3v1.3h-1.3zM632.06 246.75h1.3v1.3h-1.3zM640.57 246.75h1.3v1.3h-1.3zM649.09 246.75h1.3v1.3h-1.3zM657.60 246.75h1.3v1.3h-1.3zM666.12 246.75h1.3v1.3h-1.3zM70.06 198.65h1.3v1.3h-1.3zM78.58 198.65h1.3v1.3h-1.3zM87.09 198.65h1.3v1.3h-1.3zM95.61 198.65h1.3v1.3h-1.3zM104.12 198.65h1.3v1.3h-1.3zM112.64 198.65h1.3v1.3h-1.3zM121.16 198.65h1.3v1.3h-1.3zM129.67 198.65h1.3v1.3h-1.3zM138.19 198.65h1.3v1.3h-1.3zM146.70 198.65h1.3v1.3h-1.3zM155.22 198.65h1.3v1.3h-1.3zM163.73 198.65h1.3v1.3h-1.3zM172.25 198.65h1.3v1.3h-1.3zM180.76 198.65h1.3v1.3h-1.3zM189.28 198.65h1.3v1.3h-1.3zM197.79 198.65h1.3v1.3h-1.3zM206.30 198.65h1.3v1.3h-1.3zM214.82 198.65h1.3v1.3h-1.3zM223.34 198.65h1.3v1.3h-1.3zM231.85 198.65h1.3v1.3h-1.3zM240.36 198.65h1.3v1.3h-1.3zM248.88 198.65h1.3v1.3h-1.3zM257.40 198.65h1.3v1.3h-1.3zM265.91 198.65h1.3v1.3h-1.3zM274.43 198.65h1.3v1.3h-1.3zM282.94 198.65h1.3v1.3h-1.3zM291.46 198.65h1.3v1.3h-1.3zM299.97 198.65h1.3v1.3h-1.3zM308.49 198.65h1.3v1.3h-1.3zM317.00 198.65h1.3v1.3h-1.3zM325.52 198.65h1.3v1.3h-1.3zM334.03 198.65h1.3v1.3h-1.3zM342.55 198.65h1.3v1.3h-1.3zM351.06 198.65h1.3v1.3h-1.3zM359.58 198.65h1.3v1.3h-1.3zM368.09 198.65h1.3v1.3h-1.3zM376.61 198.65h1.3v1.3h-1.3zM385.12 198.65h1.3v1.3h-1.3zM393.64 198.65h1.3v1.3h-1.3zM402.15 198.65h1.3v1.3h-1.3zM410.67 198.65h1.3v1.3h-1.3zM419.18 198.65h1.3v1.3h-1.3zM427.70 198.65h1.3v1.3h-1.3zM436.21 198.65h1.3v1.3h-1.3zM444.73 198.65h1.3v1.3h-1.3zM453.24 198.65h1.3v1.3h-1.3zM461.76 198.65h1.3v1.3h-1.3zM470.27 198.65h1.3v1.3h-1.3zM478.79 198.65h1.3v1.3h-1.3zM487.30 198.65h1.3v1.3h-1.3zM495.82 198.65h1.3v1.3h-1.3zM504.33 198.65h1.3v1.3h-1.3zM512.85 198.65h1.3v1.3h-1.3zM521.36 198.65h1.3v1.3h-1.3zM529.88 198.65h1.3v1.3h-1.3zM538.39 198.65h1.3v1.3h-1.3zM546.91 198.65h1.3v1.3h-1.3zM555.42 198.65h1.3v1.3h-1.3zM563.94 198.65h1.3v1.3h-1.3zM572.45 198.65h1.3v1.3h-1.3zM580.97 198.65h1.3v1.3h-1.3zM589.48 198.65h1.3v1.3h-1.3zM598.00 198.65h1.3v1.3h-1.3zM606.51 198.65h1.3v1.3h-1.3zM615.03 198.65h1.3v1.3h-1.3zM623.54 198.65h1.3v1.3h-1.3zM632.06 198.65h1.3v1.3h-1.3zM640.57 198.65h1.3v1.3h-1.3zM649.09 198.65h1.3v1.3h-1.3zM657.60 198.65h1.3v1.3h-1.3zM666.12 198.65h1.3v1.3h-1.3zM70.06 151.85h1.3v1.3h-1.3zM78.58 151.85h1.3v1.3h-1.3zM87.09 151.85h1.3v1.3h-1.3zM95.61 151.85h1.3v1.3h-1.3zM104.12 151.85h1.3v1.3h-1.3zM112.64 151.85h1.3v1.3h-1.3zM121.16 151.85h1.3v1.3h-1.3zM129.67 151.85h1.3v1.3h-1.3zM138.19 151.85h1.3v1.3h-1.3zM146.70 151.85h1.3v1.3h-1.3zM155.22 151.85h1.3v1.3h-1.3zM163.73 151.85h1.3v1.3h-1.3zM172.25 151.85h1.3v1.3h-1.3zM180.76 151.85h1.3v1.3h-1.3zM189.28 151.85h1.3v1.3h-1.3zM197.79 151.85h1.3v1.3h-1.3zM206.30 151.85h1.3v1.3h-1.3zM214.82 151.85h1.3v1.3h-1.3zM223.34 151.85h1.3v1.3h-1.3zM231.85 151.85h1.3v1.3h-1.3zM240.36 151.85h1.3v1.3h-1.3zM248.88 151.85h1.3v1.3h-1.3zM257.40 151.85h1.3v1.3h-1.3zM265.91 151.85h1.3v1.3h-1.3zM274.43 151.85h1.3v1.3h-1.3zM282.94 151.85h1.3v1.3h-1.3zM291.46 151.85h1.3v1.3h-1.3zM299.97 151.85h1.3v1.3h-1.3zM308.49 151.85h1.3v1.3h-1.3zM317.00 151.85h1.3v1.3h-1.3zM325.52 151.85h1.3v1.3h-1.3zM334.03 151.85h1.3v1.3h-1.3zM342.55 151.85h1.3v1.3h-1.3zM351.06 151.85h1.3v1.3h-1.3zM359.58 151.85h1.3v1.3h-1.3zM368.09 151.85h1.3v1.3h-1.3zM376.61 151.85h1.3v1.3h-1.3zM385.12 151.85h1.3v1.3h-1.3zM393.64 151.85h1.3v1.3h-1.3zM402.15 151.85h1.3v1.3h-1.3zM410.67 151.85h1.3v1.3h-1.3zM419.18 151.85h1.3v1.3h-1.3zM427.70 151.85h1.3v1.3h-1.3zM436.21 151.85h1.3v1.3h-1.3zM444.73 151.85h1.3v1.3h-1.3zM453.24 151.85h1.3v1.3h-1.3zM461.76 151.85h1.3v1.3h-1.3zM470.27 151.85h1.3v1.3h-1.3zM478.79 151.85h1.3v1.3h-1.3zM487.30 151.85h1.3v1.3h-1.3zM495.82 151.85h1.3v1.3h-1.3zM504.33 151.85h1.3v1.3h-1.3zM512.85 151.85h1.3v1.3h-1.3zM521.36 151.85h1.3v1.3h-1.3zM529.88 151.85h1.3v1.3h-1.3zM538.39 151.85h1.3v1.3h-1.3zM546.91 151.85h1.3v1.3h-1.3zM555.42 151.85h1.3v1.3h-1.3zM563.94 151.85h1.3v1.3h-1.3zM572.45 151.85h1.3v1.3h-1.3zM580.97 151.85h1.3v1.3h-1.3zM589.48 151.85h1.3v1.3h-1.3zM598.00 151.85h1.3v1.3h-1.3zM606.51 151.85h1.3v1.3h-1.3zM615.03 151.85h1.3v1.3h-1.3zM623.54 151.85h1.3v1.3h-1.3zM632.06 151.85h1.3v1.3h-1.3zM640.57 151.85h1.3v1.3h-1.3zM649.09 151.85h1.3v1.3h-1.3zM657.60 151.85h1.3v1.3h-1.3zM666.12 151.85h1.3v1.3h-1.3zM70.06 103.55h1.3v1.3h-1.3zM78.58 103.55h1.3v1.3h-1.3zM87.09 103.55h1.3v1.3h-1.3zM95.61 103.55h1.3v1.3h-1.3zM104.12 103.55h1.3v1.3h-1.3zM112.64 103.55h1.3v1.3h-1.3zM121.16 103.55h1.3v1.3h-1.3zM129.67 103.55h1.3v1.3h-1.3zM138.19 103.55h1.3v1.3h-1.3zM146.70 103.55h1.3v1.3h-1.3zM155.22 103.55h1.3v1.3h-1.3zM163.73 103.55h1.3v1.3h-1.3zM172.25 103.55h1.3v1.3h-1.3zM180.76 103.55h1.3v1.3h-1.3zM189.28 103.55h1.3v1.3h-1.3zM197.79 103.55h1.3v1.3h-1.3zM206.30 103.55h1.3v1.3h-1.3zM214.82 103.55h1.3v1.3h-1.3zM223.34 103.55h1.3v1.3h-1.3zM231.85 103.55h1.3v1.3h-1.3zM240.36 103.55h1.3v1.3h-1.3zM248.88 103.55h1.3v1.3h-1.3zM257.40 103.55h1.3v1.3h-1.3zM265.91 103.55h1.3v1.3h-1.3zM274.43 103.55h1.3v1.3h-1.3zM282.94 103.55h1.3v1.3h-1.3zM291.46 103.55h1.3v1.3h-1.3zM299.97 103.55h1.3v1.3h-1.3zM308.49 103.55h1.3v1.3h-1.3zM317.00 103.55h1.3v1.3h-1.3zM325.52 103.55h1.3v1.3h-1.3zM334.03 103.55h1.3v1.3h-1.3zM342.55 103.55h1.3v1.3h-1.3zM351.06 103.55h1.3v1.3h-1.3zM359.58 103.55h1.3v1.3h-1.3zM368.09 103.55h1.3v1.3h-1.3zM376.61 103.55h1.3v1.3h-1.3zM385.12 103.55h1.3v1.3h-1.3zM393.64 103.55h1.3v1.3h-1.3zM402.15 103.55h1.3v1.3h-1.3zM410.67 103.55h1.3v1.3h-1.3zM419.18 103.55h1.3v1.3h-1.3zM427.70 103.55h1.3v1.3h-1.3zM436.21 103.55h1.3v1.3h-1.3zM444.73 103.55h1.3v1.3h-1.3zM453.24 103.55h1.3v1.3h-1.3zM461.76 103.55h1.3v1.3h-1.3zM470.27 103.55h1.3v1.3h-1.3zM478.79 103.55h1.3v1.3h-1.3zM487.30 103.55h1.3v1.3h-1.3zM495.82 103.55h1.3v1.3h-1.3zM504.33 103.55h1.3v1.3h-1.3zM512.85 103.55h1.3v1.3h-1.3zM521.36 103.55h1.3v1.3h-1.3zM529.88 103.55h1.3v1.3h-1.3zM538.39 103.55h1.3v1.3h-1.3zM546.91 103.55h1.3v1.3h-1.3zM555.42 103.55h1.3v1.3h-1.3zM563.94 103.55h1.3v1.3h-1.3zM572.45 103.55h1.3v1.3h-1.3zM580.97 103.55h1.3v1.3h-1.3zM589.48 103.55h1.3v1.3h-1.3zM598.00 103.55h1.3v1.3h-1.3zM606.51 103.55h1.3v1.3h-1.3zM615.03 103.55h1.3v1.3h-1.3zM623.54 103.55h1.3v1.3h-1.3zM632.06 103.55h1.3v1.3h-1.3zM640.57 103.55h1.3v1.3h-1.3zM649.09 103.55h1.3v1.3h-1.3zM657.60 103.55h1.3v1.3h-1.3zM666.12 103.55h1.3v1.3h-1.3zM70.06 55.25h1.3v1.3h-1.3zM78.58 55.25h1.3v1.3h-1.3zM87.09 55.25h1.3v1.3h-1.3zM95.61 55.25h1.3v1.3h-1.3zM104.12 55.25h1.3v1.3h-1.3zM112.64 55.25h1.3v1.3h-1.3zM121.16 55.25h1.3v1.3h-1.3zM129.67 55.25h1.3v1.3h-1.3zM138.19 55.25h1.3v1.3h-1.3zM146.70 55.25h1.3v1.3h-1.3zM155.22 55.25h1.3v1.3h-1.3zM163.73 55.25h1.3v1.3h-1.3zM172.25 55.25h1.3v1.3h-1.3zM180.76 55.25h1.3v1.3h-1.3zM189.28 55.25h1.3v1.3h-1.3zM197.79 55.25h1.3v1.3h-1.3zM206.30 55.25h1.3v1.3h-1.3zM214.82 55.25h1.3v1.3h-1.3zM223.34 55.25h1.3v1.3h-1.3zM231.85 55.25h1.3v1.3h-1.3zM240.36 55.25h1.3v1.3h-1.3zM248.88 55.25h1.3v1.3h-1.3zM257.40 55.25h1.3v1.3h-1.3zM265.91 55.25h1.3v1.3h-1.3zM274.43 55.25h1.3v1.3h-1.3zM282.94 55.25h1.3v1.3h-1.3zM291.46 55.25h1.3v1.3h-1.3zM299.97 55.25h1.3v1.3h-1.3zM308.49 55.25h1.3v1.3h-1.3zM317.00 55.25h1.3v1.3h-1.3zM325.52 55.25h1.3v1.3h-1.3zM334.03 55.25h1.3v1.3h-1.3zM342.55 55.25h1.3v1.3h-1.3zM351.06 55.25h1.3v1.3h-1.3zM359.58 55.25h1.3v1.3h-1.3zM368.09 55.25h1.3v1.3h-1.3zM376.61 55.25h1.3v1.3h-1.3zM385.12 55.25h1.3v1.3h-1.3zM393.64 55.25h1.3v1.3h-1.3zM402.15 55.25h1.3v1.3h-1.3zM410.67 55.25h1.3v1.3h-1.3zM419.18 55.25h1.3v1.3h-1.3zM427.70 55.25h1.3v1.3h-1.3zM436.21 55.25h1.3v1.3h-1.3zM444.73 55.25h1.3v1.3h-1.3zM453.24 55.25h1.3v1.3h-1.3zM461.76 55.25h1.3v1.3h-1.3zM470.27 55.25h1.3v1.3h-1.3zM478.79 55.25h1.3v1.3h-1.3zM487.30 55.25h1.3v1.3h-1.3zM495.82 55.25h1.3v1.3h-1.3zM504.33 55.25h1.3v1.3h-1.3zM512.85 55.25h1.3v1.3h-1.3zM521.36 55.25h1.3v1.3h-1.3zM529.88 55.25h1.3v1.3h-1.3zM538.39 55.25h1.3v1.3h-1.3zM546.91 55.25h1.3v1.3h-1.3zM555.42 55.25h1.3v1.3h-1.3zM563.94 55.25h1.3v1.3h-1.3zM572.45 55.25h1.3v1.3h-1.3zM580.97 55.25h1.3v1.3h-1.3zM589.48 55.25h1.3v1.3h-1.3zM598.00 55.25h1.3v1.3h-1.3zM606.51 55.25h1.3v1.3h-1.3zM615.03 55.25h1.3v1.3h-1.3zM623.54 55.25h1.3v1.3h-1.3zM632.06 55.25h1.3v1.3h-1.3zM640.57 55.25h1.3v1.3h-1.3zM649.09 55.25h1.3v1.3h-1.3zM657.60 55.25h1.3v1.3h-1.3zM666.12 55.25h1.3v1.3h-1.3z" fill="#333"/>
<path d="M83.00 487.1V481.1M83.00 9.1V15.1M138.50 487.1V481.1M138.50 9.1V15.1M193.50 487.1V481.1M193.50 9.1V15.1M247.50 487.1V481.1M247.50 9.1V15.1M303.00 487.1V481.1M303.00 9.1V15.1M358.50 487.1V481.1M358.50 9.1V15.1M413.50 487.1V481.1M413.50 9.1V15.1M467.50 487.1V481.1M467.50 9.1V15.1M522.50 487.1V481.1M522.50 9.1V15.1M578.00 487.1V481.1M578.00 9.1V15.1M633.50 487.1V481.1M633.50 9.1V15.1M61.8 439.00H67.8M677.4 439.00H671.4M61.8 390.60H67.8M677.4 390.60H671.4M61.8 342.50H67.8M677.4 342.50H671.4M61.8 295.60H67.8M677.4 295.60H671.4M61.8 247.40H67.8M677.4 247.40H671.4M61.8 199.30H67.8M677.4 199.30H671.4M61.8 152.50H67.8M677.4 152.50H671.4M61.8 104.20H67.8M677.4 104.20H671.4M61.8 55.90H67.8M677.4 55.90H671.4" stroke="#000" stroke-width="1.1" fill="none"/>
<rect x="61.8" y="9.1" width="615.60" height="478.00" fill="none" stroke="#000" stroke-width="1.3"/>
<polyline points="61.70,163.30 149.70,261.60 237.70,312.70 325.70,349.30 413.70,374.70 501.70,394.90 589.70,410.30 677.70,424.30" fill="none" stroke="#00ff00" stroke-width="2.8" stroke-linejoin="round" stroke-linecap="round"/><rect x="56.10" y="157.70" width="11.20" height="11.20" fill="none" stroke="#00ff00" stroke-width="2.55"/><rect x="144.10" y="256.00" width="11.20" height="11.20" fill="none" stroke="#00ff00" stroke-width="2.55"/><rect x="232.10" y="307.10" width="11.20" height="11.20" fill="none" stroke="#00ff00" stroke-width="2.55"/><rect x="320.10" y="343.70" width="11.20" height="11.20" fill="none" stroke="#00ff00" stroke-width="2.55"/><rect x="408.10" y="369.10" width="11.20" height="11.20" fill="none" stroke="#00ff00" stroke-width="2.55"/><rect x="496.10" y="389.30" width="11.20" height="11.20" fill="none" stroke="#00ff00" stroke-width="2.55"/><rect x="584.10" y="404.70" width="11.20" height="11.20" fill="none" stroke="#00ff00" stroke-width="2.55"/><rect x="672.10" y="418.70" width="11.20" height="11.20" fill="none" stroke="#00ff00" stroke-width="2.55"/>
<polyline points="61.70,190.80 149.70,329.80 237.70,386.40 325.70,417.80 413.70,440.10 501.70,457.50 589.70,468.70 677.70,477.10" fill="none" stroke="#ff0000" stroke-width="2.8" stroke-linejoin="round" stroke-linecap="round"/><circle cx="61.70" cy="190.80" r="5.7" fill="none" stroke="#ff0000" stroke-width="2.55"/><circle cx="149.70" cy="329.80" r="5.7" fill="none" stroke="#ff0000" stroke-width="2.55"/><circle cx="237.70" cy="386.40" r="5.7" fill="none" stroke="#ff0000" stroke-width="2.55"/><circle cx="325.70" cy="417.80" r="5.7" fill="none" stroke="#ff0000" stroke-width="2.55"/><circle cx="413.70" cy="440.10" r="5.7" fill="none" stroke="#ff0000" stroke-width="2.55"/><circle cx="501.70" cy="457.50" r="5.7" fill="none" stroke="#ff0000" stroke-width="2.55"/><circle cx="589.70" cy="468.70" r="5.7" fill="none" stroke="#ff0000" stroke-width="2.55"/><circle cx="677.70" cy="477.10" r="5.7" fill="none" stroke="#ff0000" stroke-width="2.55"/>
<polyline points="61.70,164.00 149.70,260.30 237.70,310.00 325.70,345.10 413.70,367.70 501.70,386.40 589.70,402.20 677.70,416.20" fill="none" stroke="#0000ff" stroke-width="2.8" stroke-linejoin="round" stroke-linecap="round"/><path d="M61.70 156.70L67.50 164.00L61.70 171.30L55.90 164.00Z" fill="none" stroke="#0000ff" stroke-width="2.55" stroke-linejoin="miter"/><path d="M149.70 253.00L155.50 260.30L149.70 267.60L143.90 260.30Z" fill="none" stroke="#0000ff" stroke-width="2.55" stroke-linejoin="miter"/><path d="M237.70 302.70L243.50 310.00L237.70 317.30L231.90 310.00Z" fill="none" stroke="#0000ff" stroke-width="2.55" stroke-linejoin="miter"/><path d="M325.70 337.80L331.50 345.10L325.70 352.40L319.90 345.10Z" fill="none" stroke="#0000ff" stroke-width="2.55" stroke-linejoin="miter"/><path d="M413.70 360.40L419.50 367.70L413.70 375.00L407.90 367.70Z" fill="none" stroke="#0000ff" stroke-width="2.55" stroke-linejoin="miter"/><path d="M501.70 379.10L507.50 386.40L501.70 393.70L495.90 386.40Z" fill="none" stroke="#0000ff" stroke-width="2.55" stroke-linejoin="miter"/><path d="M589.70 394.90L595.50 402.20L589.70 409.50L583.90 402.20Z" fill="none" stroke="#0000ff" stroke-width="2.55" stroke-linejoin="miter"/><path d="M677.70 408.90L683.50 416.20L677.70 423.50L671.90 416.20Z" fill="none" stroke="#0000ff" stroke-width="2.55" stroke-linejoin="miter"/>
<polyline points="61.70,34.70 149.70,163.90 237.70,224.90 325.70,264.50 413.70,292.90 501.70,312.80 589.70,329.70 677.70,342.70" fill="none" stroke="#ff0000" stroke-width="2.8" stroke-linejoin="round" stroke-linecap="round"/><circle cx="61.70" cy="34.70" r="5.7" fill="none" stroke="#ff0000" stroke-width="2.55"/><circle cx="149.70" cy="163.90" r="5.7" fill="none" stroke="#ff0000" stroke-width="2.55"/><circle cx="237.70" cy="224.90" r="5.7" fill="none" stroke="#ff0000" stroke-width="2.55"/><circle cx="325.70" cy="264.50" r="5.7" fill="none" stroke="#ff0000" stroke-width="2.55"/><circle cx="413.70" cy="292.90" r="5.7" fill="none" stroke="#ff0000" stroke-width="2.55"/><circle cx="501.70" cy="312.80" r="5.7" fill="none" stroke="#ff0000" stroke-width="2.55"/><circle cx="589.70" cy="329.70" r="5.7" fill="none" stroke="#ff0000" stroke-width="2.55"/><circle cx="677.70" cy="342.70" r="5.7" fill="none" stroke="#ff0000" stroke-width="2.55"/>
<polyline points="61.70,23.30 149.70,108.10 237.70,156.60 325.70,193.40 413.70,217.60 501.70,237.30 589.70,254.40 677.70,272.80" fill="none" stroke="#0000ff" stroke-width="2.8" stroke-linejoin="round" stroke-linecap="round"/><path d="M61.70 16.00L67.50 23.30L61.70 30.60L55.90 23.30Z" fill="none" stroke="#0000ff" stroke-width="2.55" stroke-linejoin="miter"/><path d="M149.70 100.80L155.50 108.10L149.70 115.40L143.90 108.10Z" fill="none" stroke="#0000ff" stroke-width="2.55" stroke-linejoin="miter"/><path d="M237.70 149.30L243.50 156.60L237.70 163.90L231.90 156.60Z" fill="none" stroke="#0000ff" stroke-width="2.55" stroke-linejoin="miter"/><path d="M325.70 186.10L331.50 193.40L325.70 200.70L319.90 193.40Z" fill="none" stroke="#0000ff" stroke-width="2.55" stroke-linejoin="miter"/><path d="M413.70 210.30L419.50 217.60L413.70 224.90L407.90 217.60Z" fill="none" stroke="#0000ff" stroke-width="2.55" stroke-linejoin="miter"/><path d="M501.70 230.00L507.50 237.30L501.70 244.60L495.90 237.30Z" fill="none" stroke="#0000ff" stroke-width="2.55" stroke-linejoin="miter"/><path d="M589.70 247.10L595.50 254.40L589.70 261.70L583.90 254.40Z" fill="none" stroke="#0000ff" stroke-width="2.55" stroke-linejoin="miter"/><path d="M677.70 265.50L683.50 272.80L677.70 280.10L671.90 272.80Z" fill="none" stroke="#0000ff" stroke-width="2.55" stroke-linejoin="miter"/>
<text x="83.60" y="510.0" font-size="19.5" text-anchor="middle">10</text>
<text x="139.10" y="510.0" font-size="19.5" text-anchor="middle">15</text>
<text x="194.10" y="510.0" font-size="19.5" text-anchor="middle">20</text>
<text x="248.10" y="510.0" font-size="19.5" text-anchor="middle">25</text>
<text x="303.60" y="510.0" font-size="19.5" text-anchor="middle">30</text>
<text x="359.10" y="510.0" font-size="19.5" text-anchor="middle">35</text>
<text x="414.10" y="510.0" font-size="19.5" text-anchor="middle">40</text>
<text x="468.10" y="510.0" font-size="19.5" text-anchor="middle">45</text>
<text x="523.10" y="510.0" font-size="19.5" text-anchor="middle">50</text>
<text x="578.60" y="510.0" font-size="19.5" text-anchor="middle">55</text>
<text x="634.10" y="510.0" font-size="19.5" text-anchor="middle">60</text>
<text x="57.0" y="494.40" font-size="19.5" text-anchor="end">0.2</text>
<text x="57.0" y="446.40" font-size="19.5" text-anchor="end">0.4</text>
<text x="57.0" y="398.00" font-size="19.5" text-anchor="end">0.6</text>
<text x="57.0" y="349.90" font-size="19.5" text-anchor="end">0.8</text>
<text x="57.0" y="303.00" font-size="19.5" text-anchor="end">1</text>
<text x="57.0" y="254.80" font-size="19.5" text-anchor="end">1.2</text>
<text x="57.0" y="206.70" font-size="19.5" text-anchor="end">1.4</text>
<text x="57.0" y="159.90" font-size="19.5" text-anchor="end">1.6</text>
<text x="57.0" y="111.60" font-size="19.5" text-anchor="end">1.8</text>
<text x="57.0" y="63.30" font-size="19.5" text-anchor="end">2</text>
<text x="57.0" y="16.50" font-size="19.5" text-anchor="end">2.2</text>
<text x="369.5" y="532.3" font-size="19" text-anchor="middle">Number of users</text>
<text transform="translate(15.7 248) rotate(-90)" x="0" y="0" font-size="19" text-anchor="middle">Average rate (bps/Hz)</text>
<ellipse cx="325.65" cy="221.8" rx="21.1" ry="73.6" fill="none" stroke="#000" stroke-width="1.25"/>
<ellipse cx="236.4" cy="345.05" rx="21.2" ry="66.65" fill="none" stroke="#000" stroke-width="1.25"/>
<path d="M388.90 126.90L344.85 147.86" stroke="#000" stroke-width="1.2" fill="none"/><path d="M333.20 153.40L346.94 139.22L344.85 147.86L352.87 151.68Z" fill="#000"/>
<path d="M182.40 418.90L212.73 409.95" stroke="#000" stroke-width="1.2" fill="none"/><path d="M225.10 406.30L209.31 418.15L212.73 409.95L205.40 404.92Z" fill="#000"/>
<text x="392.4" y="129.6" font-size="18">N<tspan font-size="14" dy="8.3">k</tspan><tspan dy="-8.3">=2</tspan></text>
<text x="142.4" y="421.5" font-size="18">N<tspan font-size="14" dy="8.6">k</tspan><tspan dy="-8.6">=1</tspan></text>
<rect x="73.24" y="506.94" width="4.42" height="4.06" fill="#fff"/><rect x="79.38" y="506.94" width="4.27" height="4.06" fill="#fff"/><rect x="128.74" y="506.94" width="4.42" height="4.06" fill="#fff"/><rect x="134.88" y="506.94" width="4.27" height="4.06" fill="#fff"/><rect x="46.64" y="299.94" width="4.42" height="4.06" fill="#fff"/><rect x="52.78" y="299.94" width="4.27" height="4.06" fill="#fff"/><rect x="30.38" y="251.74" width="4.42" height="4.06" fill="#fff"/><rect x="36.52" y="251.74" width="4.27" height="4.06" fill="#fff"/><rect x="30.38" y="203.64" width="4.42" height="4.06" fill="#fff"/><rect x="36.52" y="203.64" width="4.27" height="4.06" fill="#fff"/><rect x="30.38" y="156.84" width="4.42" height="4.06" fill="#fff"/><rect x="36.52" y="156.84" width="4.27" height="4.06" fill="#fff"/><rect x="30.38" y="108.54" width="4.42" height="4.06" fill="#fff"/><rect x="36.52" y="108.54" width="4.27" height="4.06" fill="#fff"/><rect x="173.28" y="418.56" width="4.16" height="3.94" fill="#fff"/><rect x="179.03" y="418.56" width="4.01" height="3.94" fill="#fff"/>
<rect x="524.1" y="18.9" width="144.69999999999993" height="80.69999999999999" fill="#fff" stroke="#000" stroke-width="1.3"/>
<path d="M535.5 33.3H595" stroke="#00ff00" stroke-width="2.8" fill="none"/>
<rect x="559.70" y="27.70" width="11.20" height="11.20" fill="none" stroke="#00ff00" stroke-width="2.55"/>
<text x="602.3" y="41.10" font-size="19">GS−DL</text>
<path d="M535.5 59.1H595" stroke="#ff0000" stroke-width="2.8" fill="none"/>
<circle cx="565.30" cy="59.10" r="5.7" fill="none" stroke="#ff0000" stroke-width="2.55"/>
<text x="602.3" y="66.90" font-size="19">SDR</text>
<path d="M535.5 84.9H595" stroke="#0000ff" stroke-width="2.8" fill="none"/>
<path d="M565.30 77.60L571.10 84.90L565.30 92.20L559.50 84.90Z" fill="none" stroke="#0000ff" stroke-width="2.55" stroke-linejoin="miter"/>
<text x="602.3" y="92.70" font-size="19">I2DO</text>
</svg></body></html>
